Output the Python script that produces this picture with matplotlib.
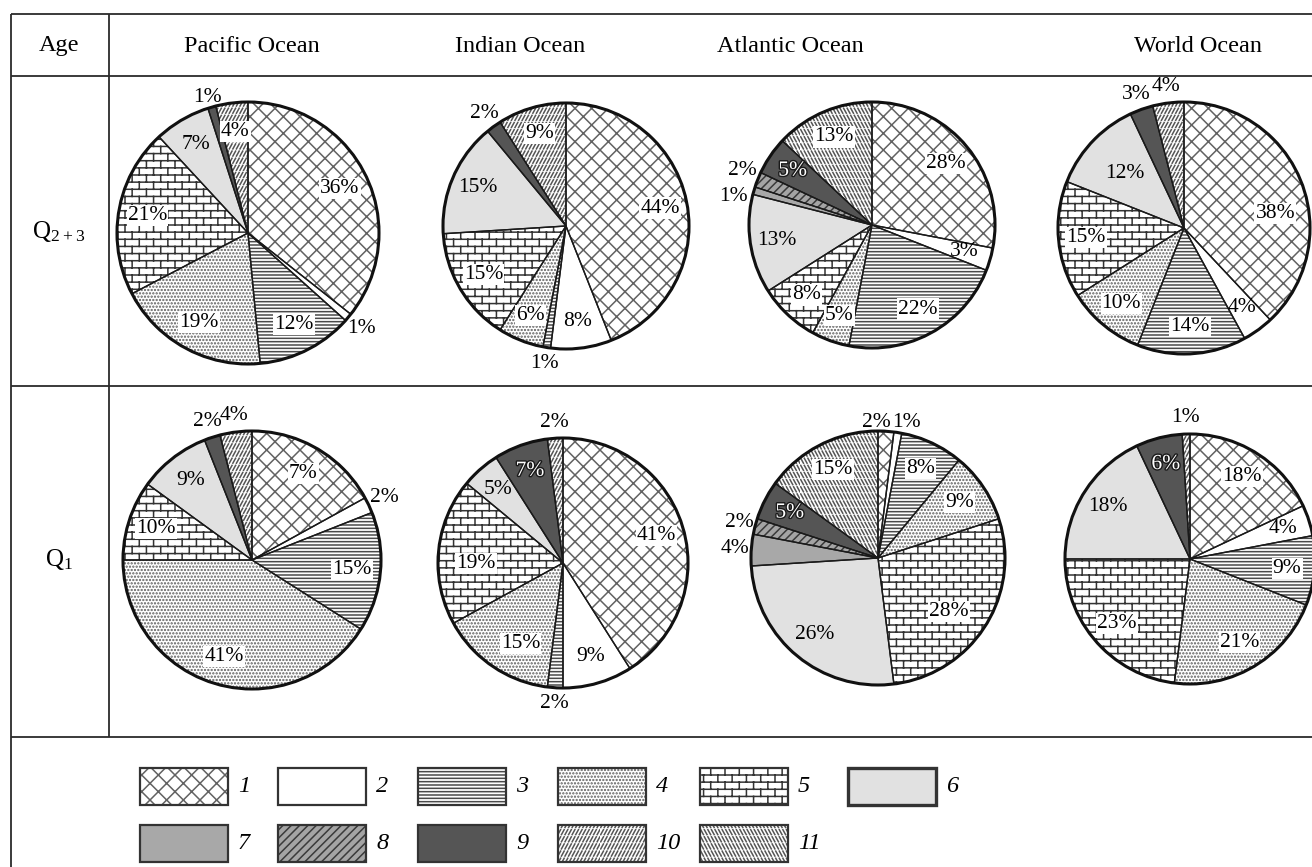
import numpy as np
import matplotlib
matplotlib.use('Agg')
import matplotlib.pyplot as plt
import matplotlib.patheffects as pe
from matplotlib import hatch as mhatch
from matplotlib.patches import Circle, Rectangle
from matplotlib.path import Path

plt.rcParams['font.family'] = ['Liberation Serif', 'DejaVu Serif']
plt.rcParams['mathtext.fontset'] = 'custom'
plt.rcParams['mathtext.rm'] = 'Liberation Serif'
plt.rcParams['mathtext.default'] = 'rm'
plt.rcParams['hatch.linewidth'] = 1.1

W, H = 1312, 867

# shares per category 1..11, clockwise from 12 o'clock
oceans = ['Pacific Ocean', 'Indian Ocean', 'Atlantic Ocean', 'World Ocean']
ages = ['Q$_{2+3}$', 'Q$_{1}$']
legend_labels = ['1', '2', '3', '4', '5', '6', '7', '8', '9', '10', '11']

pacific_q23 = [36, 1, 12, 19, 21, 7, 0, 0, 1, 4, 0]
indian_q23 = [44, 8, 1, 6, 15, 15, 0, 0, 2, 9, 0]
atlantic_q23 = [28, 3, 22, 5, 8, 13, 1, 2, 5, 0, 13]
world_q23 = [38, 4, 14, 10, 15, 12, 0, 0, 3, 4, 0]

pacific_q1 = [17, 2, 15, 41, 10, 9, 0, 0, 2, 4, 0]
indian_q1 = [41, 9, 2, 15, 19, 5, 0, 0, 7, 2, 0]
atlantic_q1 = [2, 1, 8, 9, 28, 26, 4, 2, 5, 0, 15]
world_q1 = [18, 4, 9, 21, 23, 18, 0, 0, 6, 1, 0]
# the first Pacific Q1 wedge is drawn at ~17% but printed as "7%"
pacific_q1_printed = [7, 2, 15, 41, 10, 9, 0, 0, 2, 4, 0]

values = [[pacific_q23, indian_q23, atlantic_q23, world_q23],
          [pacific_q1, indian_q1, atlantic_q1, world_q1]]
printed = [[pacific_q23, indian_q23, atlantic_q23, world_q23],
           [pacific_q1_printed, indian_q1, atlantic_q1, world_q1]]


# --- extra hatch patterns: bricks ('O'), bands of / ('o'), bands of \ ('*')
class BrickHatch(mhatch.HatchPatternBase):
    def __init__(self, hatch, density):
        self.rows = hatch.count('O') * 7
        self.cols = self.rows // 2
        self.num_vertices = 2 * (self.rows + self.rows * self.cols + self.cols)

    def set_vertices_and_codes(self, vertices, codes):
        n, m = self.rows, self.cols
        v = []
        for i in range(n):
            y = (i + 0.5) / n
            v += [(0.0, y), (1.0, y)]
        for i in range(n):
            y0 = (i + 0.5) / n
            shift = 0.5 / m if i % 2 else 0.0
            for j in range(m):
                x = (j + 0.25) / m + shift
                v += [(x, y0), (x, y0 + 1.0 / n)]
        shift = 0.5 / m if (n - 1) % 2 else 0.0
        for j in range(m):
            x = (j + 0.25) / m + shift
            v += [(x, 0.0), (x, 0.5 / n)]
        vertices[:] = v
        codes[0::2] = Path.MOVETO
        codes[1::2] = Path.LINETO


class SlashBands(mhatch.HatchPatternBase):
    char = 'o'
    lean = 1

    def __init__(self, hatch, density):
        self.rows = hatch.count(self.char) * 7
        self.per_row = 28
        self.num_vertices = 2 * self.rows * self.per_row

    def set_vertices_and_codes(self, vertices, codes):
        h = 0.7 / max(self.rows, 1)
        d = 0.55 * h
        v = []
        for i in range(self.rows):
            y0 = (i + 0.15) / self.rows
            for j in range(self.per_row):
                x = (j + 0.2) / self.per_row
                if self.lean > 0:
                    v += [(x, y0), (x + d, y0 + h)]
                else:
                    v += [(x + d, y0), (x, y0 + h)]
        vertices[:] = v
        codes[0::2] = Path.MOVETO
        codes[1::2] = Path.LINETO


class BackslashBands(SlashBands):
    char = '*'
    lean = -1


mhatch._hatch_types = [t for t in mhatch._hatch_types
                       if t not in (mhatch.LargeCircles, mhatch.SmallCircles, mhatch.Stars)]
mhatch._hatch_types += [BrickHatch, SlashBands, BackslashBands]

cat_face = ['white', 'white', 'white', 'white', 'white', '#e1e1e1',
            '#a8a8a8', '#a4a4a4', '#555555', 'white', 'white']
cat_hatch = ['xx', None, '-----', '.....', 'OO', None,
             None, '////', None, 'oo', '**']
cat_hatch_col = ['#626262', 'k', '#4a4a4a', '#5c5c5c', '#333333', 'k',
                 'k', '#3a3a3a', 'k', '#555555', '#555555']

# layout, pixels from top-left
pie_xy = [[(248, 233), (566, 226), (872, 225), (1184, 228)],
          [(252, 560), (563, 563), (878, 558), (1190, 559)]]
pie_r = [[131, 123, 123, 126], [129, 125, 127, 125]]
outside_extra = {(0, 3): [8, 9], (1, 0): [9], (1, 2): [6]}
nudges = {(0, 0): {8: (0, -0.05)},
          (0, 2): {6: (-0.04, -0.08), 7: (0, 0.03)},
          (0, 3): {0: (0, -0.17), 5: (0.1, -0.1)},
          (1, 1): {4: (0.08, -0.08), 3: (0.1, 0)},
          (1, 2): {0: (-0.08, -0.06), 1: (0.05, -0.05), 4: (-0.1, 0)}}

fig = plt.figure(figsize=(W / 100, H / 100), dpi=100)
ax = fig.add_axes([0, 0, 1, 1])


def Y(y):
    return H - y


# table rules
line_kw = dict(color='#2b2b2b', lw=1.3, solid_capstyle='butt')
for y in [14, 76, 386, 737]:
    ax.plot([11, W], [Y(y), Y(y)], **line_kw)
ax.plot([11, 11], [Y(14), Y(H)], **line_kw)
ax.plot([109, 109], [Y(14), Y(737)], **line_kw)

ax.text(59, Y(46), 'Age', ha='center', va='center', fontsize=17.5)
for name, xc in zip(oceans, [252, 520, 790, 1198]):
    ax.text(xc, Y(46), name, ha='center', va='center', fontsize=17.5)
for lab, yc in zip(ages, [232, 560]):
    ax.text(59, Y(yc), lab, ha='center', va='center', fontsize=18)


def draw_pie(row, col):
    vals = values[row][col]
    prn = printed[row][col]
    idx = [i for i, v in enumerate(vals) if v > 0]
    sizes = [vals[i] for i in idx]
    cx, cy = pie_xy[row][col][0], Y(pie_xy[row][col][1])
    r = pie_r[row][col]
    wedges, _ = ax.pie(sizes, colors=[cat_face[i] for i in idx], startangle=90,
                       counterclock=False, center=(cx, cy), radius=r,
                       frame=True, wedgeprops=dict(linewidth=0))
    for w, i in zip(wedges, idx):
        w.set_hatch(cat_hatch[i])
        w.set_edgecolor(cat_hatch_col[i])
        if hasattr(w, 'set_hatchcolor'):
            w.set_hatchcolor(cat_hatch_col[i])
    ax.pie(sizes, colors=['none'] * len(sizes), startangle=90,
           counterclock=False, center=(cx, cy), radius=r, frame=True,
           wedgeprops=dict(edgecolor='#1a1a1a', linewidth=1.0))
    ax.add_patch(Circle((cx, cy), r, fill=False, ec='#111111', lw=2.2, zorder=3))

    extra = outside_extra.get((row, col), [])
    nd = nudges.get((row, col), {})
    for w, i in zip(wedges, idx):
        mid = np.deg2rad((w.theta1 + w.theta2) / 2)
        outside = vals[i] <= 2 or i in extra
        rr = 1.13 if outside else 0.78
        dx, dy = nd.get(i, (0, 0))
        x = cx + r * (rr * np.cos(mid) + dx)
        y = cy + r * (rr * np.sin(mid) + dy)
        kw = dict(ha='center', va='center', fontsize=15.5, zorder=4)
        if not outside:
            if i == 8:
                kw.update(color='white',
                          path_effects=[pe.withStroke(linewidth=2, foreground='#1a1a1a')])
            elif cat_hatch[i]:
                kw.update(bbox=dict(boxstyle='square,pad=0.05', fc='white', ec='none'))
        ax.text(x, y, f'{prn[i]}%', **kw)


for row in range(2):
    for col in range(4):
        draw_pie(row, col)

# legend swatches
leg_x = [140, 278, 418, 558, 700, 848]
leg_y = [768, 825]
sw_w, sw_h = 88, 37
for k, lab in enumerate(legend_labels):
    rw, cl = divmod(k, 6)
    x0, y0 = leg_x[cl], Y(leg_y[rw] + sw_h)
    sw = Rectangle((x0, y0), sw_w, sw_h, fc=cat_face[k], ec=cat_hatch_col[k],
                   lw=0, hatch=cat_hatch[k])
    ax.add_patch(sw)
    ax.add_patch(Rectangle((x0, y0), sw_w, sw_h, fill=False, ec='#333333',
                           lw=2.4 if k == 5 else 1.6))
    ax.text(x0 + sw_w + 10, y0 + sw_h / 2, lab, style='italic', fontsize=17.5,
            ha='left', va='center')

ax.set_xlim(0, W)
ax.set_ylim(0, H)
ax.set_aspect('equal')
ax.axis('off')
fig.savefig('out.png', dpi=100)
